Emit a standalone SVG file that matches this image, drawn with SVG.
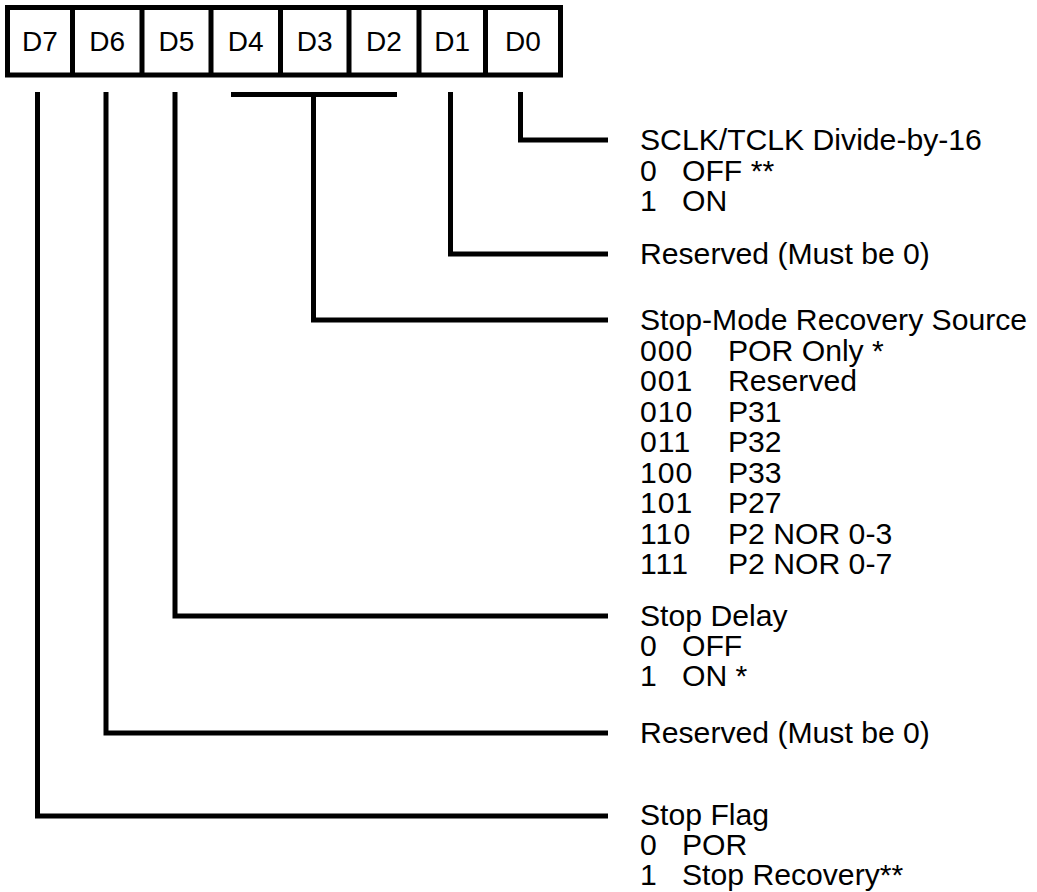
<svg xmlns="http://www.w3.org/2000/svg" width="1037" height="892" viewBox="0 0 1037 892">
<style>
.bg{fill:#fff}
.ln{fill:none;stroke:#000;stroke-width:5;stroke-linejoin:miter;stroke-linecap:butt}
.cell{fill:#fff;stroke:#000;stroke-width:5}
.t{font-family:"Liberation Sans",Arial,sans-serif;font-size:29px;fill:#000}
.c{text-anchor:middle;font-size:28px}
.n{letter-spacing:1px}
</style>
<rect class="bg" x="0" y="0" width="1037" height="892"/>
<g id="register">
<rect class="cell" x="7.5" y="7.5" width="553" height="67.5"/>
<path class="ln" d="M72.5 7.5V75M142 7.5V75M211 7.5V75M280.5 7.5V75M349 7.5V75M419 7.5V75M485.5 7.5V75"/>
<text class="t c" x="40" y="51">D7</text>
<text class="t c" x="107.25" y="51">D6</text>
<text class="t c" x="176.5" y="51">D5</text>
<text class="t c" x="245.75" y="51">D4</text>
<text class="t c" x="314.75" y="51">D3</text>
<text class="t c" x="384" y="51">D2</text>
<text class="t c" x="452.25" y="51">D1</text>
<text class="t c" x="523" y="51">D0</text>
</g>
<g id="connectors">
<polyline class="ln" points="520.5,92 520.5,140 608,140"/>
<polyline class="ln" points="450.5,92 450.5,254 608,254"/>
<line class="ln" x1="231" y1="94.5" x2="397" y2="94.5"/>
<polyline class="ln" points="313.5,94.5 313.5,320 608,320"/>
<polyline class="ln" points="175,92 175,616 608,616"/>
<polyline class="ln" points="106,92 106,733 608,733"/>
<polyline class="ln" points="37.5,92 37.5,816 608,816"/>
</g>
<g id="d0" transform="translate(640 0) scale(1.04 1)">
<text class="t" x="0" y="150">SCLK/TCLK Divide-by-16</text>
<text class="t" x="0" y="181">0</text><text class="t" x="40.4" y="181">OFF **</text>
<text class="t" x="0" y="211">1</text><text class="t" x="40.4" y="211">ON</text>
</g>
<g id="d1" transform="translate(640 0) scale(1.04 1)">
<text class="t" x="0" y="264">Reserved (Must be 0)</text>
</g>
<g id="d4-d2" transform="translate(640 0) scale(1.04 1)">
<text class="t" x="0" y="330">Stop-Mode Recovery Source</text>
<text class="t n" x="0" y="361">000</text><text class="t" x="84.6" y="361">POR Only *</text>
<text class="t n" x="0" y="391.5">001</text><text class="t" x="84.6" y="391.5">Reserved</text>
<text class="t n" x="0" y="422">010</text><text class="t" x="84.6" y="422">P31</text>
<text class="t n" x="0" y="452.5">011</text><text class="t" x="84.6" y="452.5">P32</text>
<text class="t n" x="0" y="483">100</text><text class="t" x="84.6" y="483">P33</text>
<text class="t n" x="0" y="513.5">101</text><text class="t" x="84.6" y="513.5">P27</text>
<text class="t n" x="0" y="544">110</text><text class="t" x="84.6" y="544">P2 NOR 0-3</text>
<text class="t n" x="0" y="574.5">111</text><text class="t" x="84.6" y="574.5">P2 NOR 0-7</text>
</g>
<g id="d5" transform="translate(640 0) scale(1.04 1)">
<text class="t" x="0" y="626">Stop Delay</text>
<text class="t" x="0" y="656">0</text><text class="t" x="40.4" y="656">OFF</text>
<text class="t" x="0" y="686">1</text><text class="t" x="40.4" y="686">ON *</text>
</g>
<g id="d6" transform="translate(640 0) scale(1.04 1)">
<text class="t" x="0" y="743">Reserved (Must be 0)</text>
</g>
<g id="d7" transform="translate(640 0) scale(1.04 1)">
<text class="t" x="0" y="825">Stop Flag</text>
<text class="t" x="0" y="855">0</text><text class="t" x="40.4" y="855">POR</text>
<text class="t" x="0" y="885">1</text><text class="t" x="40.4" y="885">Stop Recovery**</text>
</g>
</svg>
